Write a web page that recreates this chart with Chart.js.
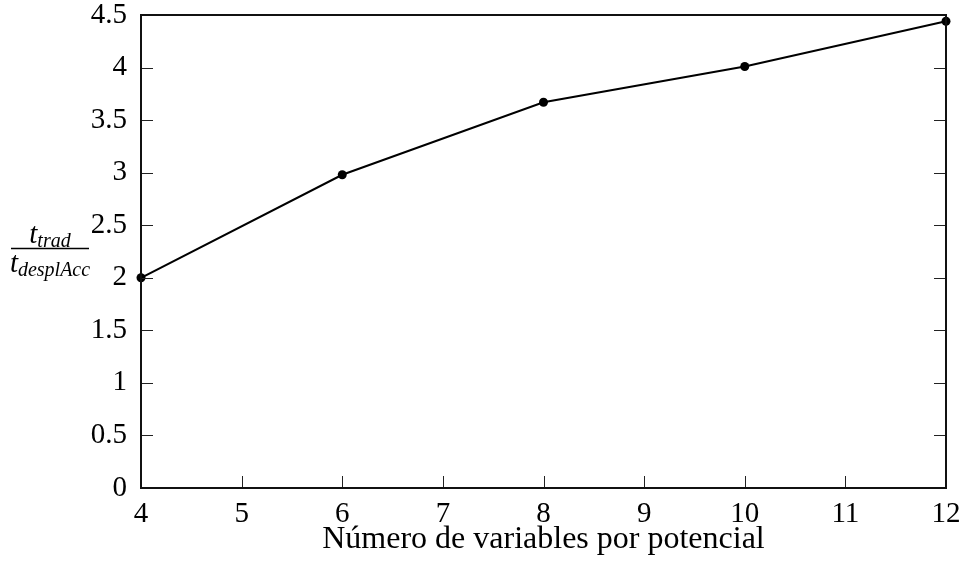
<!DOCTYPE html>
<html>
<head>
<meta charset="utf-8">
<script src="https://cdn.jsdelivr.net/npm/chart.js@4.4.0/dist/chart.umd.min.js"></script>
<style>
html,body{margin:0;padding:0;background:#fff;}
#wrap{width:968px;height:574px;}
</style>
</head>
<body>
<div id="wrap"><canvas id="c" width="968" height="574"></canvas></div>
<script>
const xValues = [4, 6, 8, 10, 12];
const yValues = [2.0, 2.98, 3.67, 4.01, 4.44];
const xTicks = [4, 5, 6, 7, 8, 9, 10, 11, 12];
const yTicks = [0, 0.5, 1, 1.5, 2, 2.5, 3, 3.5, 4, 4.5];
const xTitle = 'Número de variables por potencial';
const yTitleNum = ['t', 'trad'];
const yTitleDen = ['t', 'desplAcc'];

const FONT = '"Liberation Serif", "Times New Roman", serif';

const framePlugin = {
  id: 'frame',
  afterDraw(chart) {
    const ctx = chart.ctx;
    const a = chart.chartArea;
    const xs = chart.scales.x, ys = chart.scales.y;
    ctx.save();
    ctx.strokeStyle = '#222';
    ctx.lineWidth = 1;
    ctx.beginPath();
    xs.ticks.forEach(t => {
      const px = Math.round(xs.getPixelForValue(t.value)) + 0.5;
      if (t.value === xs.min || t.value === xs.max) return;
      ctx.moveTo(px, a.bottom);
      ctx.lineTo(px, a.bottom - 12);
    });
    ys.ticks.forEach(t => {
      const py = Math.round(ys.getPixelForValue(t.value)) + 0.5;
      if (t.value === ys.min || t.value === ys.max) return;
      ctx.moveTo(a.left, py);
      ctx.lineTo(a.left + 12, py);
      ctx.moveTo(a.right, py);
      ctx.lineTo(a.right - 12, py);
    });
    ctx.stroke();
    ctx.strokeStyle = '#111';
    ctx.lineWidth = 2;
    ctx.strokeRect(a.left, a.top, a.right - a.left, a.bottom - a.top);
    ctx.restore();
    // y-axis title fraction
    ctx.save();
    ctx.fillStyle = '#000';
    ctx.textBaseline = 'alphabetic';
    const big = 'italic 29px ' + FONT;
    const small = 'italic 20px ' + FONT;
    const cx = 50;
    ctx.font = big; const wN1 = ctx.measureText(yTitleNum[0]).width;
    ctx.font = small; const wN2 = ctx.measureText(yTitleNum[1]).width;
    let sx = cx - (wN1 + wN2) / 2;
    ctx.font = big; ctx.fillText(yTitleNum[0], sx, 243);
    ctx.font = small; ctx.fillText(yTitleNum[1], sx + wN1, 247);
    ctx.font = big; const wD1 = ctx.measureText(yTitleDen[0]).width;
    ctx.font = small; const wD2 = ctx.measureText(yTitleDen[1]).width;
    sx = cx - (wD1 + wD2) / 2;
    ctx.font = big; ctx.fillText(yTitleDen[0], sx, 272);
    ctx.font = small; ctx.fillText(yTitleDen[1], sx + wD1, 276);
    ctx.strokeStyle = '#000';
    ctx.lineWidth = 1.3;
    ctx.beginPath();
    ctx.moveTo(11, 248.5);
    ctx.lineTo(89, 248.5);
    ctx.stroke();
    ctx.restore();
  }
};

new Chart(document.getElementById('c'), {
  type: 'line',
  data: {
    datasets: [{
      data: xValues.map((x, i) => ({x: x, y: yValues[i]})),
      borderColor: '#000',
      backgroundColor: '#000',
      borderWidth: 2,
      pointRadius: 4.5,
      pointHoverRadius: 4.5,
      pointBackgroundColor: '#000',
      pointBorderColor: '#000',
      pointBorderWidth: 0,
      tension: 0,
      clip: false
    }]
  },
  options: {
    responsive: false,
    animation: false,
    events: [],
    layout: {padding: {left: 0, right: 22, top: 15, bottom: 18}},
    plugins: {legend: {display: false}, tooltip: {enabled: false}},
    scales: {
      x: {
        type: 'linear',
        min: 4, max: 12,
        afterBuildTicks(s) { s.ticks = xTicks.map(v => ({value: v})); },
        afterFit(s) { s.height = 68; s.paddingLeft = 0; s.paddingRight = 0; },
        grid: {display: false, drawTicks: false},
        border: {display: false},
        ticks: {
          color: '#000',
          font: {family: FONT, size: 29, lineHeight: 1.0},
          padding: 12,
          maxRotation: 0,
          autoSkip: false,
          callback: (v) => String(v)
        },
        title: {
          display: true,
          text: xTitle,
          color: '#000',
          font: {family: FONT, size: 32, lineHeight: 1.0},
          padding: {top: 0, bottom: 0}
        }
      },
      y: {
        type: 'linear',
        min: 0, max: 4.5,
        afterBuildTicks(s) { s.ticks = yTicks.map(v => ({value: v})); },
        afterFit(s) { s.width = 141; s.paddingTop = 0; s.paddingBottom = 0; },
        grid: {display: false, drawTicks: false},
        border: {display: false},
        ticks: {
          color: '#000',
          font: {family: FONT, size: 29, lineHeight: 1.0},
          padding: 14,
          autoSkip: false,
          callback: (v) => String(v)
        }
      }
    }
  },
  plugins: [framePlugin]
});
</script>
</body>
</html>
